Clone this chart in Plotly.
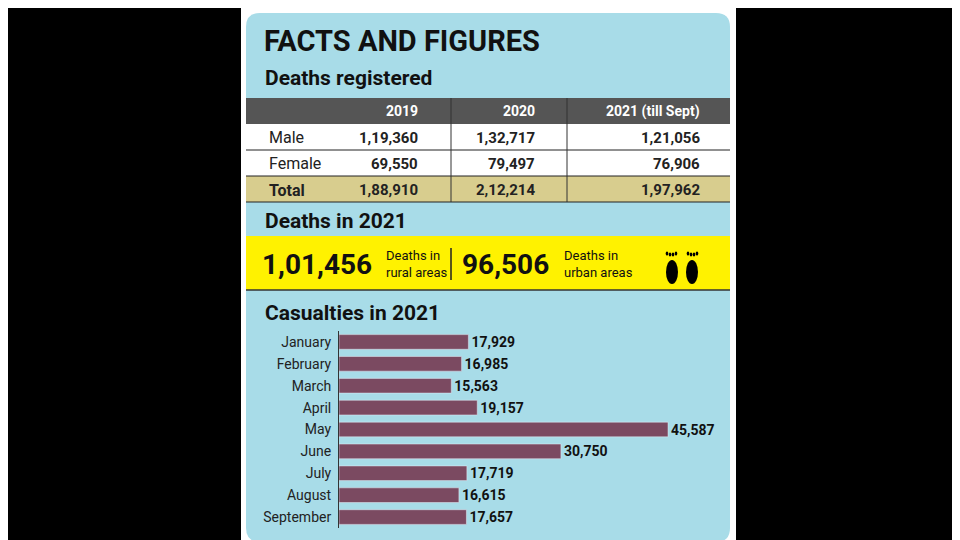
import plotly.graph_objects as go

months = ["January", "February", "March", "April", "May", "June", "July", "August", "September"]
casualties = [17929, 16985, 15563, 19157, 45587, 30750, 17719, 16615, 17657]

years = ["2019", "2020", "2021 (till Sept)"]
row_names = ["Male", "Female", "Total"]
male = ["1,19,360", "1,32,717", "1,21,056"]
female = ["69,550", "79,497", "76,906"]
total = ["1,88,910", "2,12,214", "1,97,962"]

rural = "1,01,456"
urban = "96,506"

W, H = 960, 540
FONT = "Liberation Sans Narrow, Roboto, Arial"


def px(x):
    return x / W


def py(y):
    return 1 - y / H


def rect(x0, y0, x1, y1, color, line=None):
    return dict(type="rect", xref="paper", yref="paper", x0=px(x0), x1=px(x1), y0=py(y1), y1=py(y0),
                fillcolor=color, line=dict(width=1 if line else 0, color=line or color), layer="below")


def hline(x0, x1, y, color="#222", w=1):
    return dict(type="line", xref="paper", yref="paper", x0=px(x0), x1=px(x1), y0=py(y), y1=py(y),
                line=dict(color=color, width=w))


def vline(x, y0, y1, color="#222", w=1):
    return dict(type="line", xref="paper", yref="paper", x0=px(x), x1=px(x), y0=py(y0), y1=py(y1),
                line=dict(color=color, width=w))


def text(x, y, s, size, bold=False, color="#111", xanchor="left", font=FONT):
    return dict(xref="paper", yref="paper", x=px(x), y=py(y), text=f"<b>{s}</b>" if bold else s,
                showarrow=False, xanchor=xanchor, yanchor="middle", align="left",
                font=dict(size=size, color=color, family=font))


fig = go.Figure()
fig.add_trace(go.Bar(y=months, x=casualties, orientation="h", marker_color="#7b4a61",
                     text=[f"{v:,}" for v in casualties], textposition="outside",
                     textfont=dict(size=14, color="#111", family="Roboto"), cliponaxis=False,
                     constraintext="none", texttemplate="<b>%{text}</b>"))

shapes = []
shapes.append(rect(233, 0, 728, 540, "white"))
r = 14
x0, y0, x1, y1 = px(238), py(5), px(722), py(534)
rx, ry = r / W, r / H
path = (f"M {x0+rx},{y0} L {x1-rx},{y0} Q {x1},{y0} {x1},{y0-ry} L {x1},{y1+ry} Q {x1},{y1} {x1-rx},{y1} "
        f"L {x0+rx},{y1} Q {x0},{y1} {x0},{y1+ry} L {x0},{y0-ry} Q {x0},{y0} {x0+rx},{y0} Z")
shapes.append(dict(type="path", xref="paper", yref="paper", path=path, fillcolor="#a8dce8",
                   line=dict(width=0), layer="below"))
# table
shapes.append(rect(238, 90, 722, 116, "#555555"))
shapes.append(rect(238, 116, 722, 168, "white"))
shapes.append(rect(238, 168, 722, 194, "#d8cd8e"))
shapes.append(hline(238, 722, 142))
shapes.append(hline(238, 722, 168))
shapes.append(hline(238, 722, 194))
for xv in [443, 559]:
    shapes.append(vline(xv, 90, 194, "#333"))
# yellow band
shapes.append(rect(238, 228, 722, 282, "#fff200"))
shapes.append(hline(238, 722, 282, "#333", 1.5))
shapes.append(vline(443, 240, 272, "#222", 1.5))
# footprints
for cx, sx in [(664, -1), (684, 1)]:
    shapes.append(dict(type="circle", xref="paper", yref="paper", x0=px(cx - 6), x1=px(cx + 6),
                       y0=py(276), y1=py(252), fillcolor="black", line=dict(width=0)))
    for i in range(4):
        tx = cx + sx * (i * 3 - 4)
        shapes.append(dict(type="circle", xref="paper", yref="paper", x0=px(tx - 1.3), x1=px(tx + 1.3),
                           y0=py(249 - abs(i - 1.5)), y1=py(245 - abs(i - 1.5)), fillcolor="black",
                           line=dict(width=0)))

ann = []
ann.append(text(254, 33, "FACTS AND FIGURES", 29, True))
ann.append(text(255, 70, "Deaths registered", 21, True))
cols = [412, 529, 694]
for c, yr in zip(cols, years):
    ann.append(text(c, 103, yr, 14, True, "white", "right", "Roboto"))
for i, (nm, vals) in enumerate(zip(row_names, [male, female, total])):
    yy = 130 + i * 26
    ann.append(text(259, yy, f"<b>{nm}</b>" if nm == "Total" else nm, 16, False, "#222"))
    for c, v in zip(cols, vals):
        ann.append(text(c, yy, v, 15, True, "#222", "right", "Roboto"))
ann.append(text(255, 213, "Deaths in 2021", 21, True))
ann.append(text(252, 256, rural, 28, True))
ann.append(text(376, 256, "Deaths in<br>rural areas", 13, False, "#111"))
ann.append(text(452, 256, urban, 28, True))
ann.append(text(554, 256, "Deaths in<br>urban areas", 13, False, "#111"))
ann.append(text(255, 305, "Casualties in 2021", 21, True))

fig.update_layout(
    width=W, height=H, margin=dict(l=0, r=0, t=0, b=0),
    paper_bgcolor="black", plot_bgcolor="rgba(0,0,0,0)",
    shapes=shapes, annotations=ann, showlegend=False, bargap=0.33,
    uniformtext=dict(minsize=14, mode="show"),
    xaxis=dict(domain=[px(331), px(720)], range=[0, 45587 * 389 / 329], visible=False),
    yaxis=dict(domain=[py(520), py(323)], autorange="reversed", showline=True, linecolor="#333",
               ticks="", showgrid=False, tickfont=dict(size=14, color="#222", family=FONT),
               ticklabelstandoff=4),
)
fig.write_html("out.html")
